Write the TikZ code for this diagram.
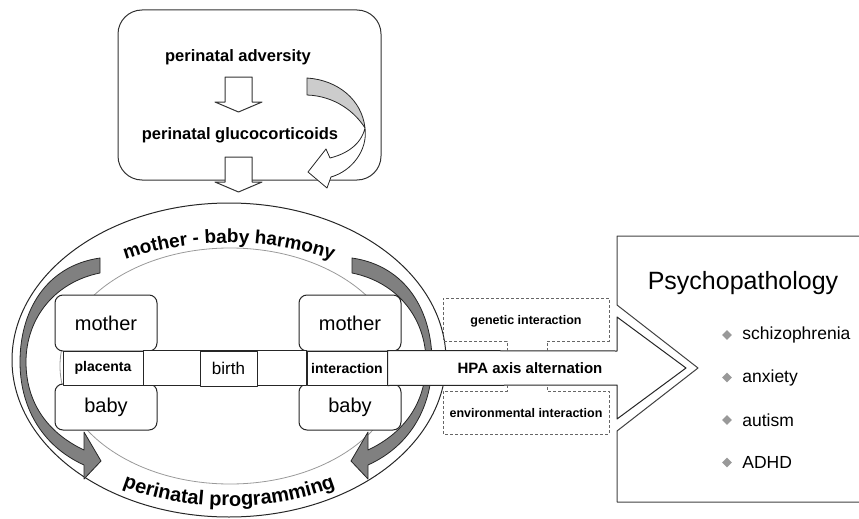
\documentclass[tikz,border=0pt]{standalone}
\usepackage{fontspec}
\setmainfont{Liberation Sans}
\usetikzlibrary{positioning, arrows.meta, calc, shapes.geometric, decorations.text}

\newcommand{\fsz}[1]{\fontsize{#1}{#1}\selectfont}

\begin{document}
\begin{tikzpicture}[x=1pt, y=-1pt, line join=round]
	% Define styles
	\tikzset{
		casebox/.style={draw=black!80, line width=1pt, rounded corners=24pt, minimum width=263pt, minimum height=170pt},
		causetext/.style={font=\bfseries\fsz{16.5}},
		blockdown/.pic={\filldraw[draw=black!80, fill=white, line width=1pt] (-13.5,-17.5) -- (13.5,-17.5) -- (13.5,7.5) -- (23.5,7.5) -- (0,17.5) -- (-23.5,7.5) -- (-13.5,7.5) -- cycle;},
		party/.style={draw=black!85, fill=white, line width=1pt, rounded corners=8pt, minimum width=102pt, minimum height=56pt, font=\fsz{20}},
		link/.style={draw=black!85, fill=white, line width=1pt, inner sep=0pt, minimum height=34pt, font=\bfseries\fsz{14}},
		ring/.style={draw=black!85, line width=1pt},
		band/.style={draw=black!85, fill=black!50, line width=0.8pt},
		dashbox/.style={draw=black!60, dash pattern=on 3pt off 2pt, line width=1pt},
		note/.style={font=\bfseries\fsz{12.5}},
		disorder/.style={anchor=west, inner sep=0pt, font=\fsz{17.5}},
		gem/.style={diamond, fill=black!40, minimum size=10pt, inner sep=0pt}
	}
	\useasboundingbox (0,0) rectangle (859,519);

	% Cause box
	\node[casebox] (cause) at (249.5,95) {};
	\node[causetext] (adv) at (238,57) {perinatal adversity};
	\node[causetext] (gluco) at (240,135) {perinatal glucocorticoids};
	\pic (down1) at (238.5,94.5) {blockdown};
	\pic (down2) at (238.5,174.5) {blockdown};

	% Twisted arrow
	\filldraw[draw=black!85, fill=black!20, line width=0.8pt] (307,78) .. controls (338,80) and (362,100) .. (365,128) .. controls (355,112) and (335,96) .. (307,95) -- cycle;
	\filldraw[draw=black!85, fill=white, line width=0.8pt] (365,128) .. controls (368,150) and (352,171) .. (331,177) -- (327,188) -- (308,172) -- (326,149) -- (330,158) .. controls (346,154) and (361,145) .. (365,128) -- cycle;

	% Ellipses
	\draw[draw=black!40, line width=0.8pt] (230,366) ellipse [x radius=170, y radius=118];
	\draw[ring] (229,360) ellipse [x radius=217, y radius=157];

	% Curved labels
	\path[decorate, shift={(229,360)}, decoration={text along path, text align=center, text={|\bfseries\fsz{19}|mother - baby harmony}}] (205:200 and 117) arc [start angle=205, end angle=335, x radius=200, y radius=117];
	\path[decorate, shift={(229,360)}, decoration={text along path, text align=center, text={|\bfseries\fsz{20}|perinatal programming}}] (155:215 and 146) arc [start angle=155, end angle=25, x radius=215, y radius=146];

	% Side bands
	\foreach \s/\o in {1/0, -1/452} {
		\begin{scope}[xshift=\o pt, xscale=\s]
			\filldraw[band] (100,258) .. controls (45,266) and (20,312) .. (20,362) .. controls (20,405) and (40,445) .. (84,465) -- (84,479) -- (101,461) -- (84,432) -- (84,450) .. controls (50,434) and (26,405) .. (26,362) .. controls (26,318) and (55,282) .. (100,273) -- cycle;
		\end{scope}
	}

	% Mother - baby pairs
	\node[party] (mom1) at (106,323) {mother};
	\node[party, minimum height=46pt] (baby1) at (106,407) {baby};
	\node[party] (mom2) at (350,323) {mother};
	\node[party, minimum height=46pt] (baby2) at (350,407) {baby};
	\node[link, minimum width=80pt] (plac) at (103,368) {placenta};
	\node[link, minimum width=80pt] (inter) at (347,368) {interaction};
	\filldraw[fill=white, draw=black!85, line width=1pt] (plac.north east) rectangle (inter.south west);
	\node[link, font=\fsz{17}, minimum width=57pt, minimum height=35pt] (birth) at (228.5,368.5) {birth};

	% HPA arrow
	\filldraw[fill=white, draw=black!85, line width=1pt] (inter.north east) -- (617,351) -- (617,317) -- (686,368) -- (617,419) -- (617,385) -- (inter.south east) -- cycle;
	\node[font=\bfseries\fsz{15}] (hpa) at (530,368) {HPA axis alternation};

	% Interactions
	\draw[dashbox] (507,351) -- (507,341) -- (443,341) -- (443,298) -- (609,298) -- (609,341) -- (547,341) -- (547,351);
	\node[note] (gen) at (526,321) {genetic interaction};
	\draw[dashbox] (507,385) -- (507,391) -- (443,391) -- (443,434) -- (609,434) -- (609,391) -- (547,391) -- (547,385);
	\node[note] (env) at (526,413) {environmental interaction};

	% Psychopathology
	\draw[draw=black!75, line width=1pt] (859,236) -- (617,236) -- (617,305) -- (698,368) -- (617,431) -- (617,502) -- (859,502);
	\node[font=\fsz{25}] (psy) at (743,283) {Psychopathology};
	\foreach \name [count=\i] in {schizophrenia, anxiety, autism, ADHD} {
		\node[gem] (g\i) at (727,292.5+42.5*\i) {};
		\node[disorder, right=10pt of g\i] (d\i) {\name};
	}
\end{tikzpicture}
\end{document}
